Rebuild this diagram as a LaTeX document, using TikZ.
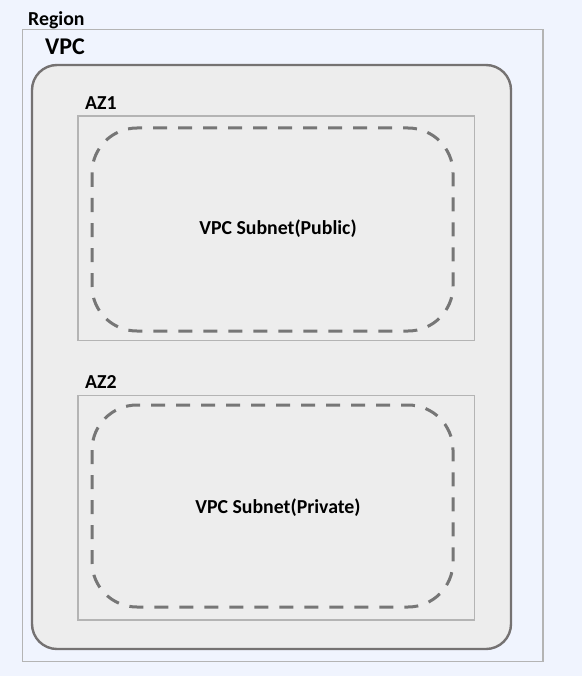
\documentclass[tikz,border=0pt]{standalone}
\usepackage{fontspec}
\setmainfont{Carlito}
\definecolor{bgc}{HTML}{F0F4FE}
\definecolor{regionline}{HTML}{B4B4B4}
\definecolor{vpcfill}{HTML}{EDEDED}
\definecolor{vpcline}{HTML}{757272}
\definecolor{azline}{HTML}{B4B4B4}
\definecolor{dashline}{HTML}{767676}
\tikzset{
  regionbox/.style={draw=regionline, line width=1.3pt, fill=bgc},
  vpcbox/.style={draw=vpcline, line width=2.4pt, fill=vpcfill, rounded corners=25pt},
  azbox/.style={draw=azline, line width=1.1pt, fill=vpcfill},
  subnetbox/.style={draw=dashline, line width=3pt, dash pattern=on 14pt off 11pt, rounded corners=45pt},
  lbl/.style={font=\bfseries\fontsize{19.8}{22}\selectfont, inner sep=0pt, anchor=base west},
  biglbl/.style={font=\bfseries\fontsize{24}{26}\selectfont, inner sep=0pt, anchor=base west},
  sublbl/.style={font=\bfseries\fontsize{19.8}{22}\selectfont, inner sep=0pt, anchor=base}
}
\begin{document}
\begin{tikzpicture}[x=1pt,y=1pt]
\fill[bgc] (0,0) rectangle (582,-676);
\useasboundingbox (0,0) rectangle (582,-676);
\draw[regionbox] (22.5,-29.5) rectangle (543,-661.5);
\node[lbl] (region) at (28,-26) {Region};
\draw[vpcbox] (32,-65) rectangle (511,-649);
\node[biglbl] (vpc) at (45,-55) {VPC};
\draw[azbox] (78,-116) rectangle (474.5,-340.5);
\node[lbl] (az1) at (85,-110) {AZ1};
\draw[subnetbox] (92,-128) rectangle (453,-331);
\node[sublbl] (pub) at (278,-234) {VPC Subnet(Public)};
\draw[azbox] (78,-395.5) rectangle (474.5,-620);
\node[lbl] (az2) at (85,-388.5) {AZ2};
\draw[subnetbox] (92,-405) rectangle (453,-607);
\node[sublbl] (priv) at (278,-513) {VPC Subnet(Private)};
\end{tikzpicture}
\end{document}
